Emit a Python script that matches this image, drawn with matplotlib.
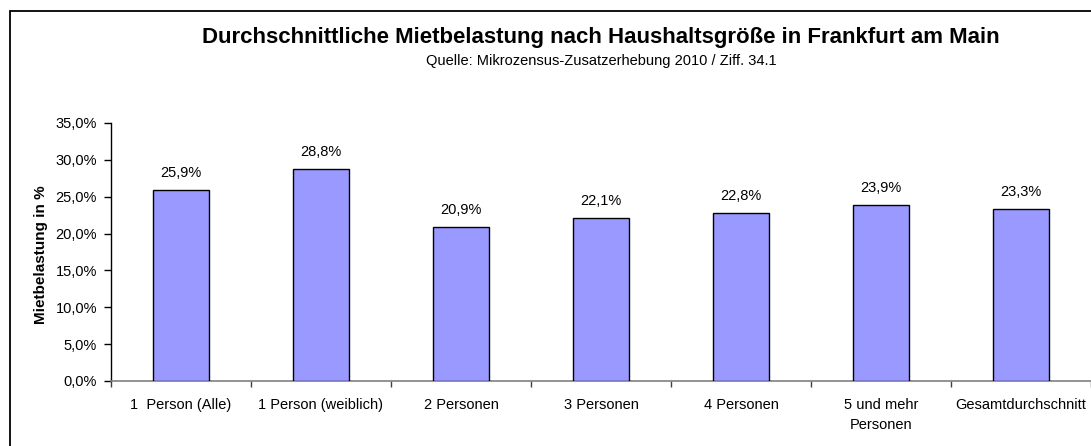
import matplotlib
matplotlib.use("Agg")
import matplotlib.pyplot as plt
from matplotlib.patches import Rectangle
from matplotlib.ticker import FuncFormatter

categories = ["1  Person (Alle)", "1 Person (weiblich)", "2 Personen", "3 Personen",
              "4 Personen", "5 und mehr\nPersonen", "Gesamtdurchschnitt"]
values = [25.9, 28.8, 20.9, 22.1, 22.8, 23.9, 23.3]
yticks = [0, 5, 10, 15, 20, 25, 30, 35]

plt.rcParams['font.family'] = ['Liberation Sans', 'DejaVu Sans']

W, H = 1091, 446
fig = plt.figure(figsize=(W / 100, H / 100), dpi=100)
fig.patch.set_facecolor('white')

left, right, top, bottom = 111, 1091, 123, 381
ax = fig.add_axes([left / W, 1 - bottom / H, (right - left) / W, (bottom - top) / H])

x = list(range(len(categories)))
ax.bar(x, values, width=0.4, color='#9999FF', edgecolor='black', linewidth=1.0, zorder=3)
for xi, v in zip(x, values):
    ax.text(xi, v + 2.3, f"{v:.1f}%".replace('.', ','), ha='center', va='center', fontsize=10.5)

ax.set_xlim(-0.5, len(categories) - 0.5)
ax.set_ylim(0, 35)
ax.set_yticks(yticks)
ax.yaxis.set_major_formatter(FuncFormatter(lambda v, p: f"{v:.1f}%".replace('.', ',')))
ax.set_xticks(x)
ax.set_xticklabels(categories, fontsize=10.5, linespacing=1.6)
ax.set_xticks([i + 0.5 for i in range(-1, len(categories))], minor=True)
ax.tick_params(axis='x', which='major', length=0, pad=12)
ax.tick_params(axis='x', which='minor', length=4, width=1, color='#404040', direction='out')
ax.tick_params(axis='y', length=5, width=1, direction='out', labelsize=10.5, pad=5, color='black')

for s in ['top', 'right']:
    ax.spines[s].set_visible(False)
ax.spines['left'].set_color('black')
ax.spines['left'].set_linewidth(1.0)
ax.spines['bottom'].set_color('#808080')
ax.spines['bottom'].set_linewidth(1.2)

ax.set_ylabel("Mietbelastung in %", fontsize=11, fontweight='bold')
ax.yaxis.set_label_coords((48 - left) / (right - left), 0.49)

cx = (left + right) / 2 / W
fig.text(cx, 1 - 37 / H, "Durchschnittliche Mietbelastung nach Haushaltsgröße in Frankfurt am Main",
         ha='center', va='center', fontsize=16, fontweight='bold')
fig.text(cx, 1 - 61 / H, "Quelle: Mikrozensus-Zusatzerhebung 2010 / Ziff. 34.1",
         ha='center', va='center', fontsize=10.5)

fig.patches.append(Rectangle((10 / W, -0.2), 2, 1.2 - 11 / H, transform=fig.transFigure,
                             fill=False, edgecolor='black', linewidth=1.3))

fig.savefig("out.png", dpi=100)
